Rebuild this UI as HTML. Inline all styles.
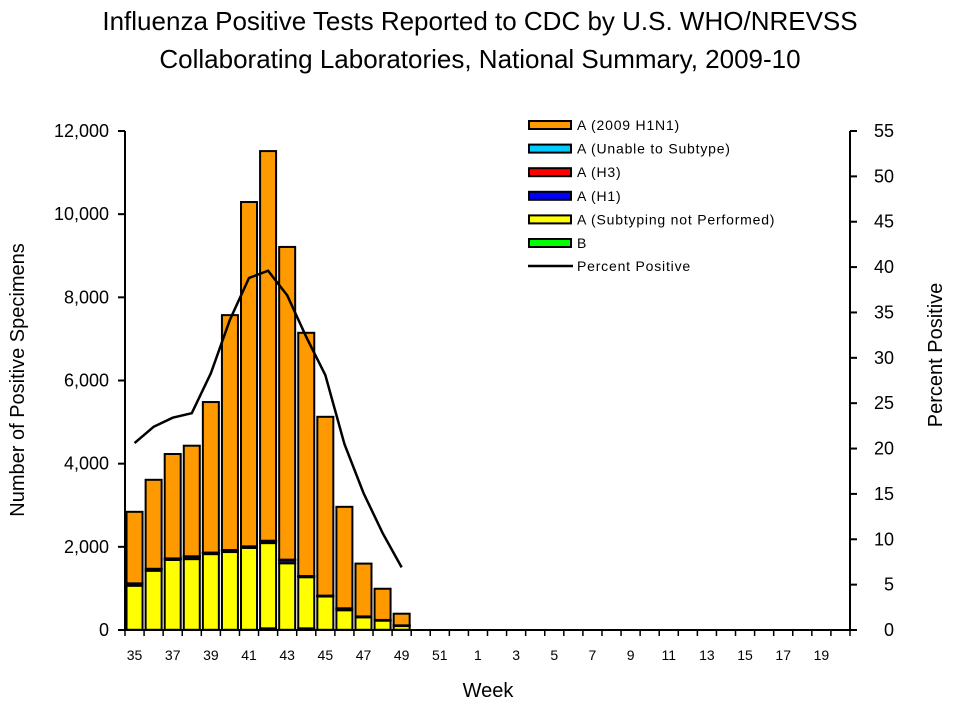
<!DOCTYPE html>
<html><head><meta charset="utf-8"><style>
body{margin:0;background:#fff}
svg{display:block;font-family:"Liberation Sans",Arial,sans-serif}
</style></head><body>
<svg id="chart" width="960" height="720">
<text x="480" y="30" text-anchor="middle" font-size="26">Influenza Positive Tests Reported to CDC by U.S. WHO/NREVSS</text>
<text x="480" y="68" text-anchor="middle" font-size="26">Collaborating Laboratories, National Summary, 2009-10</text>
<text transform="translate(24,380) rotate(-90)" text-anchor="middle" font-size="20">Number of Positive Specimens</text>
<text transform="translate(942,355) rotate(-90)" text-anchor="middle" font-size="20">Percent Positive</text>
<text x="488" y="697" text-anchor="middle" font-size="20">Week</text>
<g id="bars"></g><g id="axes"></g><g id="legend"></g>
</svg>
<script>
const weeks=[35,36,37,38,39,40,41,42,43,44,45,46,47,48,49,50,51,52,1,2,3,4,5,6,7,8,9,10,11,12,13,14,15,16,17,18,19,20];
const bSeries=[5,5,5,5,5,5,5,40,5,40,5,5,5,5,5,0,0,0,0,0,0,0,0,0,0,0,0,0,0,0,0,0,0,0,0,0,0,0];
const notSubtyped=[1060,1420,1680,1700,1820,1870,1970,2050,1600,1230,800,470,300,220,90,0,0,0,0,0,0,0,0,0,0,0,0,0,0,0,0,0,0,0,0,0,0,0];
const h1=[50,40,30,60,30,40,30,50,80,20,15,40,15,10,10,0,0,0,0,0,0,0,0,0,0,0,0,0,0,0,0,0,0,0,0,0,0,0];
const h3=[2,2,2,2,2,2,2,2,2,2,2,2,2,2,2,0,0,0,0,0,0,0,0,0,0,0,0,0,0,0,0,0,0,0,0,0,0,0];
const unable=[5,5,5,5,5,5,5,5,5,5,5,5,5,5,5,0,0,0,0,0,0,0,0,0,0,0,0,0,0,0,0,0,0,0,0,0,0,0];
const h1n1=[1720,2140,2510,2660,3620,5650,8280,9370,7520,5850,4300,2440,1270,750,280,0,0,0,0,0,0,0,0,0,0,0,0,0,0,0,0,0,0,0,0,0,0,0];
const pctPositive=[20.6,22.4,23.4,23.9,28.3,34.2,38.8,39.6,36.9,32.3,28.1,20.5,15.1,10.7,6.9];
const yTicks=[0,2000,4000,6000,8000,10000,12000];
const y2Ticks=[0,5,10,15,20,25,30,35,40,45,50,55];
const NS='http://www.w3.org/2000/svg';
const L=125,R=850,T=131,B=630,yMax=12000,y2Max=55;
const bw=(R-L)/weeks.length;
const x=i=>L+bw*(i+0.5);
const y=v=>B-v/yMax*(B-T);
const y2=v=>B-v/y2Max*(B-T);
function mk(tag,attrs,parent){const e=document.createElementNS(NS,tag);for(const k in attrs)e.setAttribute(k,attrs[k]);parent.appendChild(e);return e;}
const gb=document.getElementById('bars'),ga=document.getElementById('axes'),gl=document.getElementById('legend');
const series=[[bSeries,'#00ff00','b'],[notSubtyped,'#ffff00','not-subtyped'],[h1,'#0000ff','h1'],[h3,'#ff0000','h3'],[unable,'#00ccff','unable'],[h1n1,'#ff9900','2009-h1n1']];
weeks.forEach((w,i)=>{
  let cum=0;
  series.forEach(([arr,col,nm])=>{
    const v=arr[i];if(!v)return;
    const r=mk('rect',{x:x(i)-8,y:y(cum+v),width:16,height:y(cum)-y(cum+v),fill:col,stroke:'#000','stroke-width':2},gb);
    
    
    cum+=v;
  });
});
const pts=pctPositive.map((v,i)=>x(i)+','+y2(v)).join(' ');
const pl=mk('polyline',{points:pts,fill:'none',stroke:'#000','stroke-width':2.5},gb);


const ax=mk('line',{x1:L,y1:T,x2:L,y2:B+1,stroke:'#000','stroke-width':2},ga);

const ax2=mk('line',{x1:R,y1:T,x2:R,y2:B+1,stroke:'#000','stroke-width':2},ga);

const xa=mk('line',{x1:L,y1:B,x2:R,y2:B,stroke:'#000','stroke-width':2},ga);

yTicks.forEach(v=>{
  mk('line',{x1:L-7,y1:y(v),x2:L,y2:y(v),stroke:'#000','stroke-width':2},ga);
  const t=mk('text',{x:L-16,y:y(v)+6,'text-anchor':'end','font-size':18},ga);
  t.textContent=v.toLocaleString('en-US');
  
});
y2Ticks.forEach(v=>{
  mk('line',{x1:R,y1:y2(v),x2:R+7,y2:y2(v),stroke:'#000','stroke-width':2},ga);
  const t=mk('text',{x:R+44,y:y2(v)+6,'text-anchor':'end','font-size':18},ga);
  t.textContent=v;
  
});
for(let i=0;i<=weeks.length;i++)mk('line',{x1:L+bw*i,y1:B,x2:L+bw*i,y2:B+6,stroke:'#000','stroke-width':1.5},ga);
weeks.forEach((w,i)=>{if(i%2)return;
  const t=mk('text',{x:x(i),y:B+30,'text-anchor':'middle','font-size':14},ga);
  t.textContent=w;
  
});
const leg=[['A (2009 H1N1)','#ff9900'],['A (Unable to Subtype)','#00ccff'],['A (H3)','#ff0000'],['A (H1)','#0000ff'],['A (Subtyping not Performed)','#ffff00'],['B','#00ff00']];
leg.forEach(([lab,col],i)=>{
  const cy=125+i*23.6;
  const s=mk('rect',{x:529,y:cy-4,width:42,height:8,fill:col,stroke:'#000','stroke-width':2},gl);
  
  const t=mk('text',{x:577,y:cy+5,'font-size':14,'letter-spacing':'0.8'},gl);
  t.textContent=lab;
  
});
const ll=mk('line',{x1:528,y1:266,x2:573,y2:266,stroke:'#000','stroke-width':2.5},gl);

const lt=mk('text',{x:577,y:271,'font-size':14,'letter-spacing':'0.8'},gl);
lt.textContent='Percent Positive';

</script>
</body></html>
